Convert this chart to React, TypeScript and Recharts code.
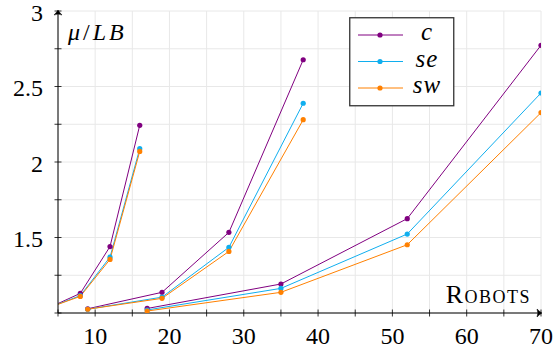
import { LineChart, Line, XAxis, YAxis, CartesianGrid } from 'recharts'

// x positions (robots) of each of the three runs
const RUN1_X = [4, 8, 12, 16]
const RUN2_X = [9, 19, 28, 38]
const RUN3_X = [17, 35, 52, 70]

// mu/LB values
const C_RUN1 = [1.04, 1.13, 1.44, 2.243]
const C_RUN2 = [1.028, 1.137, 1.534, 2.677]
const C_RUN3 = [1.03, 1.192, 1.625, 2.773]

const SE_RUN1 = [1.04, 1.115, 1.37, 2.088]
const SE_RUN2 = [1.025, 1.105, 1.435, 2.389]
const SE_RUN3 = [1.02, 1.163, 1.523, 2.457]

const SW_RUN1 = [1.04, 1.11, 1.355, 2.07]
const SW_RUN2 = [1.025, 1.097, 1.408, 2.28]
const SW_RUN3 = [1.013, 1.137, 1.452, 2.327]

const X_TICKS = [5, 10, 15, 20, 25, 30, 35, 40, 45, 50, 55, 60, 65, 70]
const X_LABELS = [10, 20, 30, 40, 50, 60, 70]
const Y_TICKS = [1, 1.25, 1.5, 1.75, 2, 2.25, 2.5, 2.75, 3]
const Y_LABELS = [1.5, 2, 2.5, 3]

const FONT = "'Liberation Serif', 'DejaVu Serif', serif"

const W = 555
const H = 356
const MARGIN = { top: 11, right: 14, bottom: 0, left: 0 }
const Y_AXIS_W = 58
const X_AXIS_H = 43

const SERIES = [
  { name: 'c', color: '#800080', runs: [C_RUN1, C_RUN2, C_RUN3] },
  { name: 'se', color: '#10aeee', runs: [SE_RUN1, SE_RUN2, SE_RUN3] },
  { name: 'sw', color: '#ff8000', runs: [SW_RUN1, SW_RUN2, SW_RUN3] },
]
const RUN_X = [RUN1_X, RUN2_X, RUN3_X]

// tikz-style arrow head pointing right, tip at (0,0)
const ARROW = 'M -5 -4 Q -2 -1 0 0 Q -2 1 -5 4 Q -3.2 0 -5 -4 Z'

function YTick({ x, y, payload }: any) {
  const v = payload.value
  return (
    <g>
      <line x1={x - 3.5} x2={x + 3.5} y1={y} y2={y} stroke="#000" strokeWidth={0.8} />
      {Y_LABELS.includes(v) && (
        <text x={x - 15} y={y + 1.5} textAnchor="end" dominantBaseline="central" style={{ fontFamily: FONT }} fontSize={24} fill="#000">
          {String(v)}
        </text>
      )}
    </g>
  )
}

function XTick({ x, y, payload }: any) {
  const v = payload.value
  return (
    <g>
      <line x1={x} x2={x} y1={y - 3.5} y2={y + 3.5} stroke="#000" strokeWidth={0.8} />
      {X_LABELS.includes(v) && (
        <text x={x} y={y + 31} textAnchor="middle" style={{ fontFamily: FONT }} fontSize={24} fill="#000">
          {String(v)}
        </text>
      )}
    </g>
  )
}

function LegendBox() {
  return (
    <svg width={106} height={90} style={{ display: 'block' }}>
      <rect x={0.75} y={0.75} width={104} height={88} fill="#fff" stroke="#333" strokeWidth={1.3} />
      {SERIES.map((s, i) => {
        const cy = 18 + i * 26.5
        return (
          <g key={s.name}>
            <line x1={9} x2={54} y1={cy} y2={cy} stroke={s.color} strokeWidth={1} />
            <circle cx={31} cy={cy} r={2.6} fill={s.color} />
            <text x={78} y={cy + 5} textAnchor="middle" style={{ fontFamily: FONT, fontStyle: 'italic', letterSpacing: 1 }} fontSize={25} fill="#000">
              {s.name}
            </text>
          </g>
        )
      })}
    </svg>
  )
}

// arrow heads on the axis ends, drawn over the chart
function AxisArrows() {
  const left = MARGIN.left + Y_AXIS_W
  const top = MARGIN.top
  const right = W - MARGIN.right
  const bottom = H - MARGIN.bottom - X_AXIS_H
  return (
    <svg width={W} height={H} style={{ position: 'absolute', left: 0, top: 0, pointerEvents: 'none' }}>
      <path d={ARROW} transform={`translate(${right + 1},${bottom})`} fill="#000" stroke="#000" strokeWidth={0.5} />
      <path d={ARROW} transform={`translate(${left},${top - 1}) rotate(-90)`} fill="#000" stroke="#000" strokeWidth={0.5} />
    </svg>
  )
}

export default function App() {
  return (
    <div style={{ position: 'absolute', left: 0, top: 0, width: W, height: H }}>
      <LineChart width={W} height={H} margin={MARGIN}>
        <CartesianGrid stroke="#e8e8e8" strokeWidth={1} />
        <XAxis
          type="number"
          dataKey="x"
          domain={[5, 70]}
          allowDataOverflow
          ticks={X_TICKS}
          interval={0}
          height={X_AXIS_H}
          tickSize={0}
          tickMargin={0}
          tick={<XTick />}
          axisLine={{ stroke: '#000', strokeWidth: 1 }}
          label={{
            content: ({ viewBox }: any) => (
              <text x={viewBox.x + viewBox.width - 10} y={viewBox.y - 10} textAnchor="end" style={{ fontFamily: FONT, fontVariant: 'small-caps', letterSpacing: 1.5 }} fontSize={26} fill="#000">
                Robots
              </text>
            ),
          }}
        />
        <YAxis
          type="number"
          domain={[1, 3]}
          allowDataOverflow
          ticks={Y_TICKS}
          interval={0}
          width={Y_AXIS_W}
          tickSize={0}
          tickMargin={0}
          tick={<YTick />}
          axisLine={{ stroke: '#000', strokeWidth: 1 }}
          label={{
            content: ({ viewBox }: any) => (
              <text x={viewBox.x + viewBox.width + 10} y={viewBox.y + 29} style={{ fontFamily: FONT, letterSpacing: 3 }} fontSize={24} fill="#000">
                <tspan fontStyle="italic">μ</tspan>/<tspan fontStyle="italic">LB</tspan>
              </text>
            ),
          }}
        />
        {SERIES.map((s) =>
          s.runs.map((run, r) => (
            <Line
              key={`${s.name}-${r}`}
              data={RUN_X[r].map((x, i) => ({ x, y: run[i] }))}
              dataKey="y"
              name={s.name}
              stroke={s.color}
              strokeWidth={1}
              dot={{ r: 2.6, fill: s.color, stroke: 'none' }}
              activeDot={false}
              legendType="none"
              isAnimationActive={false}
            />
          ))
        )}
      </LineChart>
      <AxisArrows />
      <div style={{ position: 'absolute', left: 349, top: 17 }}>
        <LegendBox />
      </div>
    </div>
  )
}
